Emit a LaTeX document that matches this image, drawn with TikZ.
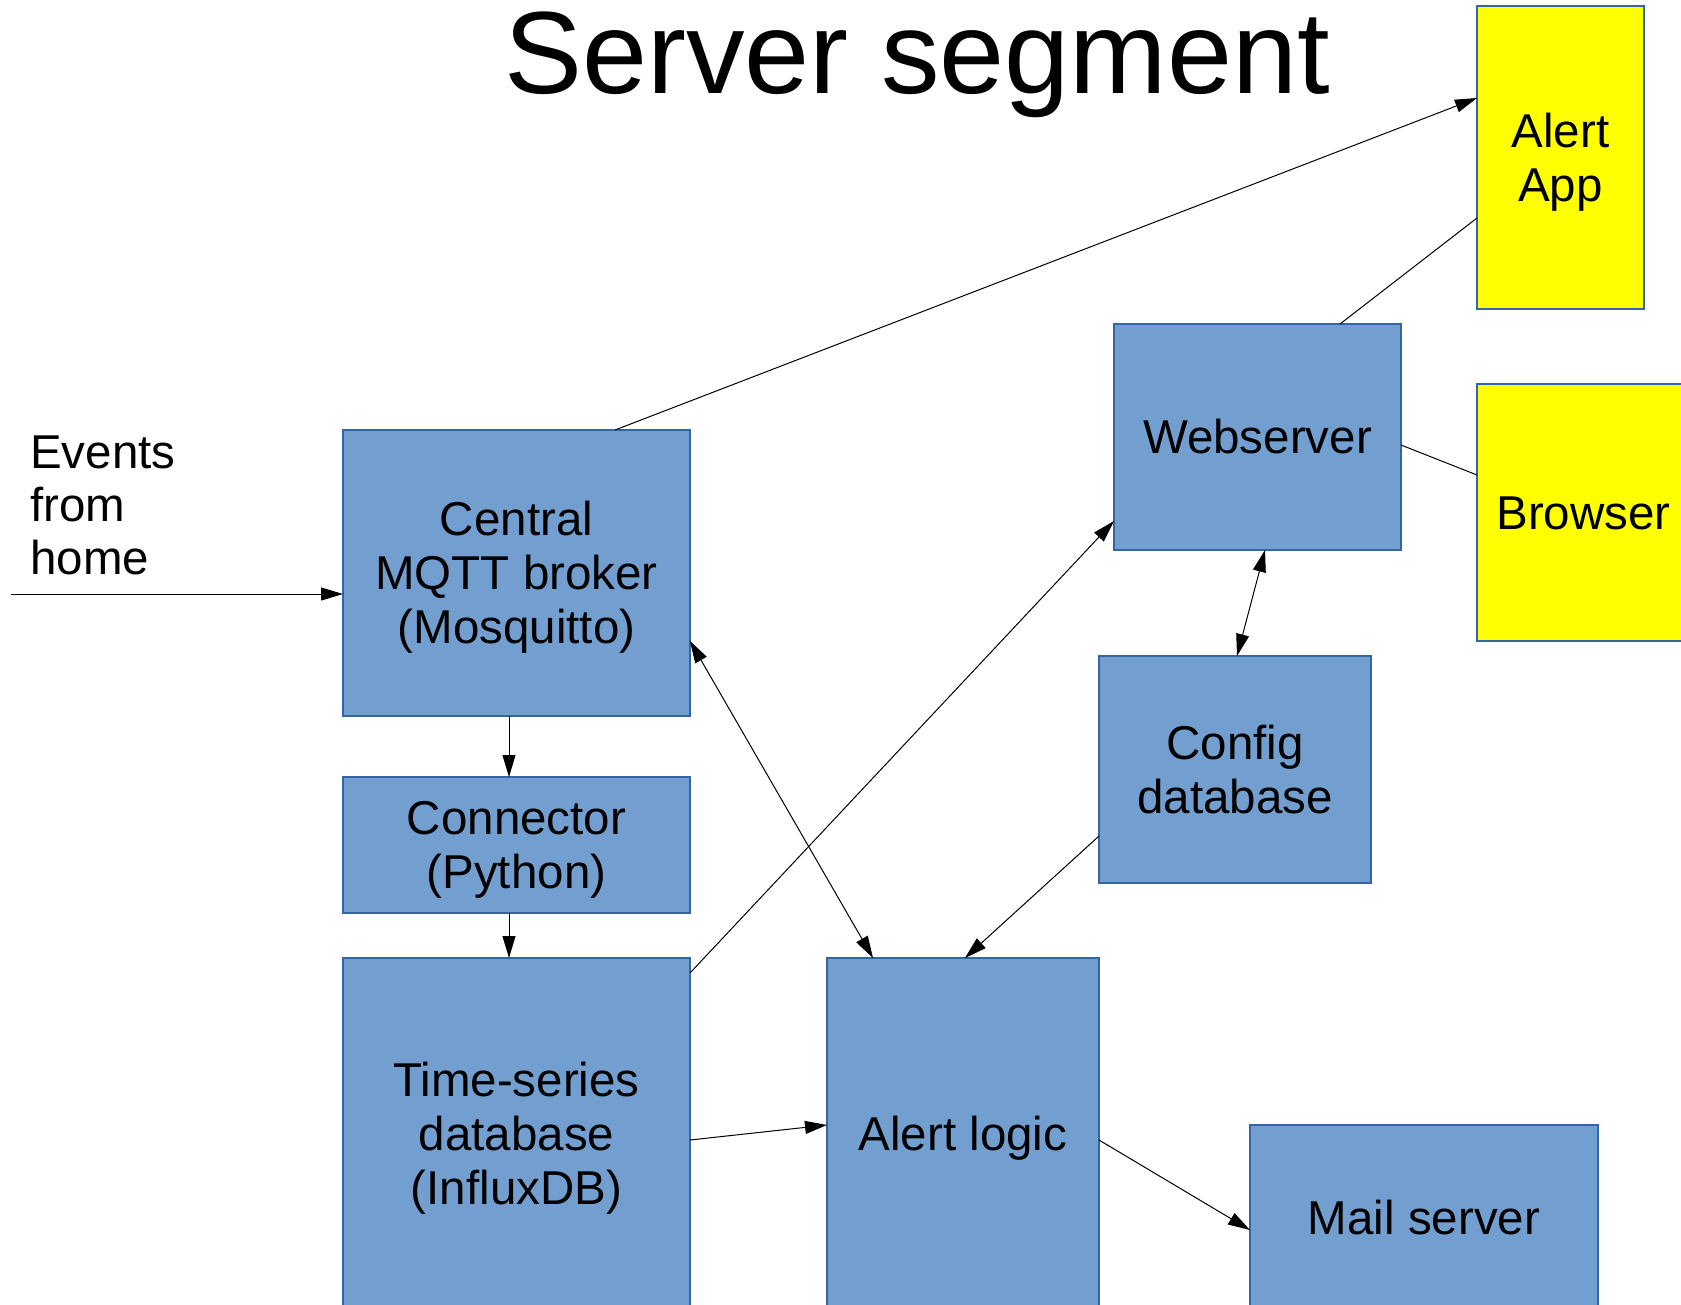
\documentclass[tikz,border=0pt]{standalone}
\usepackage{fontspec}
\setmainfont{Liberation Sans}
\usetikzlibrary{arrows.meta}
\definecolor{boxblue}{HTML}{729FCF}
\definecolor{boxedge}{HTML}{3465A4}
\definecolor{appyellow}{HTML}{FFFF00}
\newcommand\topst{\rule{0pt}{43pt}}
\newcommand\botst{\rule[-10pt]{0pt}{10pt}}
\begin{document}
\begin{tikzpicture}[x=1pt,y=-1pt,
  box/.style={draw=boxedge,line width=1.2pt,fill=boxblue,inner sep=0pt,outer sep=0pt,anchor=north west,align=center,
    font=\fontsize{47.5}{54}\selectfont},
  ybox/.style={box,fill=appyellow},
  conn/.style={line width=1pt,draw=black},
  arr/.style={conn,-{Triangle[length=22pt,width=13pt]}},
  darr/.style={conn,{Triangle[length=22pt,width=13pt]}-{Triangle[length=22pt,width=13pt]}}]
\useasboundingbox (0,0) rectangle (1681,1304);
\clip (0,0) rectangle (1681,1304);
\fill[white] (0,0) rectangle (1681,1304);

\node[anchor=base,inner sep=0pt,font=\fontsize{117}{130}\selectfont] (title) at (917,93) {Server segment};

\node[box,minimum width=347pt,minimum height=286pt] (mqtt) at (343,430) {\topst Central\\MQTT broker\\(Mosquitto)\botst};
\node[box,minimum width=347pt,minimum height=136pt] (conn) at (343,777) {\topst Connector\\(Python)\botst};
\node[box,minimum width=347pt,minimum height=352pt] (ts) at (343,958) {\topst Time-series\\database\\(InfluxDB)\botst};
\node[box,minimum width=272pt,minimum height=352pt] (alert) at (827,958) {\topst Alert logic\botst};
\node[box,minimum width=348pt,minimum height=185pt] (mail) at (1250,1125) {\topst Mail server\botst};
\node[box,minimum width=272pt,minimum height=227pt] (config) at (1099,656) {\topst Config\\database\botst};
\node[box,minimum width=287pt,minimum height=226pt] (web) at (1114,324) {\topst Webserver\botst};
\node[ybox,minimum width=167pt,minimum height=303pt] (app) at (1477,6) {\topst Alert\\App\botst};
\node[ybox,minimum width=213pt,minimum height=257pt] (browser) at (1477,384) {\topst Browser\botst};

\node[anchor=base west,align=left,inner sep=0pt,font=\fontsize{47.5}{53}\selectfont] (events) at (30,574) {Events\\from\\home};
\coordinate (evstart) at (11,594);

\draw[arr] (evstart) -- ([yshift=-164pt]mqtt.north west);
\draw[arr] ([xshift=272pt]mqtt.north west) -- ([yshift=-92pt]app.north west);
\draw[conn] ([xshift=226pt]web.north west) -- ([yshift=-212pt]app.north west);
\draw[conn] ([yshift=-121pt]web.north east) -- ([yshift=-91pt]browser.north west);
\draw[arr] ([xshift=166pt]mqtt.south west) -- ([xshift=166pt]conn.north west);
\draw[arr] ([xshift=166pt]conn.south west) -- ([xshift=166pt]ts.north west);
\draw[arr] ([yshift=-15pt]ts.north east) -- ([yshift=-197pt]web.north west);
\draw[darr] ([yshift=-211pt]mqtt.north east) -- ([xshift=46pt]alert.north west);
\draw[darr] ([xshift=151pt]web.south west) -- ([xshift=138pt]config.north west);
\draw[arr] ([yshift=-180pt]config.north west) -- ([xshift=138pt]alert.north west);
\draw[arr] ([yshift=-182pt]ts.north east) -- ([yshift=-167pt]alert.north west);
\draw[arr] ([yshift=-182pt]alert.north east) -- ([yshift=-105pt]mail.north west);
\end{tikzpicture}
\end{document}
